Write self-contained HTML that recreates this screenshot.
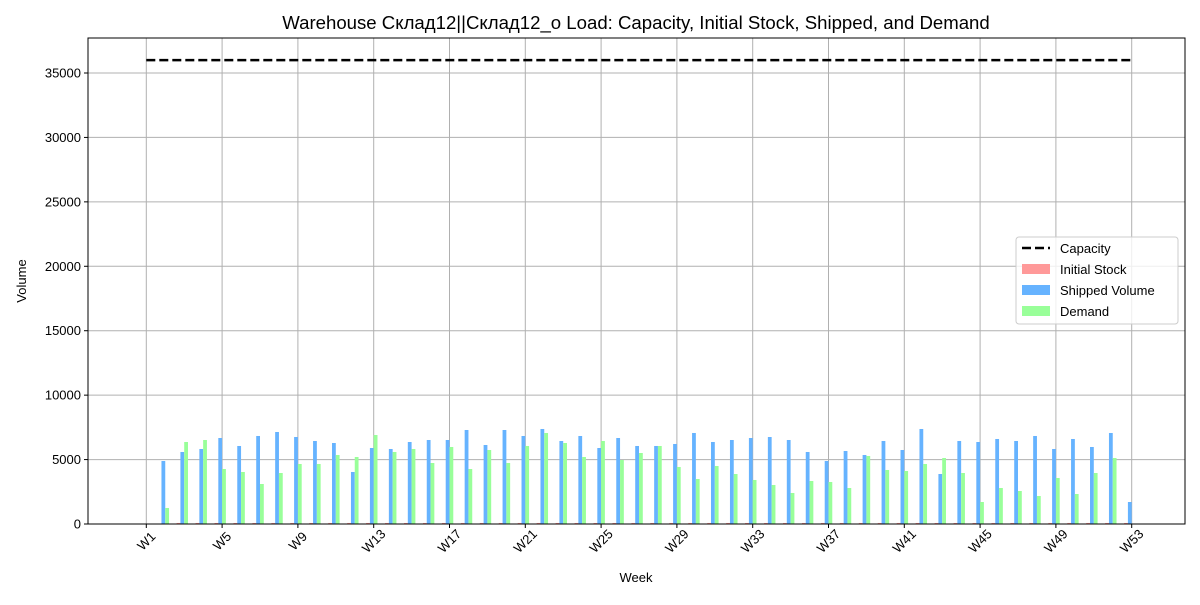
<!DOCTYPE html>
<html><head><meta charset="utf-8"><style>
body{margin:0;background:#fff;}
svg{font-family:"Liberation Sans","DejaVu Sans",sans-serif;}
</style></head><body>
<svg id="chart" width="1200" height="600"></svg>
<script>
const weeks = Array.from({length:53},(_,i)=>'W'+(i+1));
const capacity = 36000;
const initialStock = [0,0,80,80,80,80,80,80,80,80,80,80,80,80,80,80,80,80,80,80,80,80,80,80,80,80,80,80,80,80,80,80,80,80,80,80,80,80,80,80,80,80,80,80,80,80,80,80,80,80,80,80,80];
const shipped = [0,4889,5588,5821,6674,6054,6830,7140,6752,6442,6286,4036,5898,5821,6364,6519,6519,7295,6131,7295,6830,7373,6442,6830,5898,6674,6054,6054,6209,7063,6364,6519,6674,6752,6519,5588,4889,5666,5355,6442,5743,7373,3880,6442,6364,6597,6442,6830,5821,6597,5976,7063,1707];
const demand = [0,1242,6364,6519,4268,4036,3104,3958,4657,4657,5355,5200,6907,5588,5821,4734,5976,4268,5743,4734,6054,7063,6286,5200,6442,4967,5510,6054,4424,3492,4501,3880,3415,3027,2406,3337,3260,2794,5277,4191,4113,4657,5122,3958,1707,2794,2561,2173,3570,2328,3958,5122,0];
const yTicks = [0,5000,10000,15000,20000,25000,30000,35000];

const NS='http://www.w3.org/2000/svg';
const svg=document.getElementById('chart');
const L=88,R=1185,T=38,B=524;
const x0=146.3, step=18.95;
const X=i=>x0+i*step;
const Y=v=>B-v*(B-73)/35000;
function mk(tag,attrs,parent){const e=document.createElementNS(NS,tag);for(const k in attrs)e.setAttribute(k,attrs[k]);(parent||svg).appendChild(e);return e;}

mk('rect',{x:0,y:0,width:1200,height:600,fill:'#fff'});
const grid=mk('g',{});


yTicks.forEach(v=>{mk('line',{x1:L,x2:R,y1:Y(v),y2:Y(v),stroke:'#b0b0b0','stroke-width':1},grid);});
for(let i=0;i<weeks.length;i+=4){mk('line',{x1:X(i),x2:X(i),y1:T,y2:B,stroke:'#b0b0b0','stroke-width':1},grid);}

const bw=step*0.2;
const bars=mk('g',{});


weeks.forEach((w,i)=>{
  const c=X(i);
  const r=mk('rect',{x:c-2*bw,y:Y(initialStock[i]),width:bw,height:B-Y(initialStock[i]),fill:'#ff9999'},bars);
  
  
  const s=mk('rect',{x:c-bw,y:Y(shipped[i]),width:bw,height:B-Y(shipped[i]),fill:'#66b3ff'},bars);
  
  
  const d=mk('rect',{x:c,y:Y(demand[i]),width:bw,height:B-Y(demand[i]),fill:'#99ff99'},bars);
  
  
});
const cap=mk('line',{x1:X(0),x2:X(weeks.length-1),y1:Y(capacity),y2:Y(capacity),stroke:'#000','stroke-width':2.5,'stroke-dasharray':'9,4'});



mk('rect',{x:L,y:T,width:R-L,height:B-T,fill:'none',stroke:'#000','stroke-width':1});
yTicks.forEach(v=>{
  mk('line',{x1:L-4,x2:L,y1:Y(v),y2:Y(v),stroke:'#000'});
  const t=mk('text',{x:L-7,y:Y(v)+4.5,'text-anchor':'end','font-size':13});
  t.textContent=v;
  
  
});
for(let i=0;i<weeks.length;i+=4){
  mk('line',{x1:X(i),x2:X(i),y1:B,y2:B+4,stroke:'#000'});
  const cx=X(i), cy=B+17;
  const t=mk('text',{x:cx,y:cy+4.5,'text-anchor':'middle','font-size':13,transform:`rotate(-45 ${cx} ${cy})`});
  t.textContent=weeks[i];
  
  
}
</script>
<svg style="position:absolute;left:0;top:0" width="1200" height="600">
<text x="636" y="29" text-anchor="middle" font-size="18.6" font-family="Liberation Sans, DejaVu Sans, sans-serif">Warehouse Склад12||Склад12_о Load: Capacity, Initial Stock, Shipped, and Demand</text>
<text x="636" y="582" text-anchor="middle" font-size="13" font-family="Liberation Sans, sans-serif">Week</text>
<text x="26" y="281" text-anchor="middle" font-size="13" font-family="Liberation Sans, sans-serif" transform="rotate(-90 26 281)">Volume</text>
<g font-family="Liberation Sans, sans-serif" font-size="13">
<rect x="1016" y="237" width="162" height="87" rx="3" fill="#fff" fill-opacity="0.8" stroke="#ccc"/>
<line x1="1022" x2="1050" y1="248" y2="248" stroke="#000" stroke-width="2.5" stroke-dasharray="9,4"/>
<text x="1060" y="253">Capacity</text>
<rect x="1022" y="264" width="28" height="10" fill="#ff9999"/>
<text x="1060" y="274">Initial Stock</text>
<rect x="1022" y="285" width="28" height="10" fill="#66b3ff"/>
<text x="1060" y="295">Shipped Volume</text>
<rect x="1022" y="306" width="28" height="10" fill="#99ff99"/>
<text x="1060" y="316">Demand</text>
</g>
</svg>
</body></html>
